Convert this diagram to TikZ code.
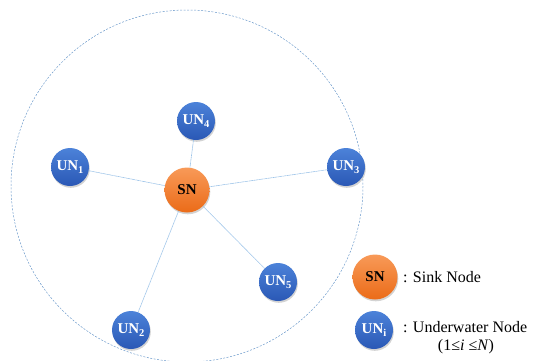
\documentclass[tikz,border=0pt]{standalone}
\usepackage{fontspec}
\setmainfont{Liberation Serif}
\usetikzlibrary{shadows}
\definecolor{unTop}{HTML}{4C82D9}
\definecolor{unBot}{HTML}{2A58B5}
\definecolor{snTop}{HTML}{F89A58}
\definecolor{snBot}{HTML}{EB6B18}
\definecolor{linkC}{HTML}{9CC3E8}
\definecolor{rangeC}{HTML}{6C9ACB}
\tikzset{
  unnode/.style={circle, minimum size=38pt, inner sep=0pt, top color=unTop, bottom color=unBot,
    text=white, font=\fontsize{15}{15}\selectfont\bfseries,
    drop shadow={opacity=0.35, shadow xshift=0.8pt, shadow yshift=-1.8pt}},
  snnode/.style={circle, minimum size=45pt, inner sep=0pt, top color=snTop, bottom color=snBot,
    text=black, font=\fontsize{15}{15}\selectfont\bfseries,
    drop shadow={opacity=0.35, shadow xshift=0.8pt, shadow yshift=-1.8pt}},
  linkline/.style={linkC, line width=0.6pt, dash pattern=on 1.2pt off 0.4pt},
  rangecircle/.style={rangeC, line width=0.5pt, dash pattern=on 2pt off 1.5pt},
  legtext/.style={font=\fontsize{16}{18}\selectfont, inner sep=0pt, anchor=west}
}
\newcommand{\UNlab}[1]{UN\raisebox{-0.45ex}{\fontsize{10.5}{10.5}\selectfont\bfseries #1}}
\begin{document}
\begin{tikzpicture}[x=1pt,y=-1pt]
\useasboundingbox (0,0) rectangle (533,360);
\begin{scope}
\clip (0,0) rectangle (533,360);
\draw[rangecircle] (187,186) circle[radius=176];
\end{scope}
\node[snnode] (sn) at (187,190) {SN};
\node[unnode] (un4) at (196,121) {\UNlab{4}};
\node[unnode] (un1) at (70,167) {\UNlab{1}};
\node[unnode] (un3) at (346,167) {\UNlab{3}};
\node[unnode] (un5) at (278,282) {\UNlab{5}};
\node[unnode] (un2) at (131,330) {\UNlab{2}};
\draw[linkline] (sn) -- (un4);
\draw[linkline] (sn) -- (un1);
\draw[linkline] (sn) -- (un3);
\draw[linkline] (sn) -- (un5);
\draw[linkline] (sn) -- (un2);
% legend
\node[snnode] (lsn) at (375,277) {SN};
\node[unnode] (lun) at (374,330) {\UNlab{i}};
\node[legtext] (lsntext) at (403,277) {: Sink Node};
\node[legtext] (luntext) at (403,327) {: Underwater Node};
\node[font=\fontsize{16}{18}\selectfont, inner sep=0pt] (lrange) at (466,347) {(1≤\textit{i} ≤\textit{N})};
\end{tikzpicture}
\end{document}
